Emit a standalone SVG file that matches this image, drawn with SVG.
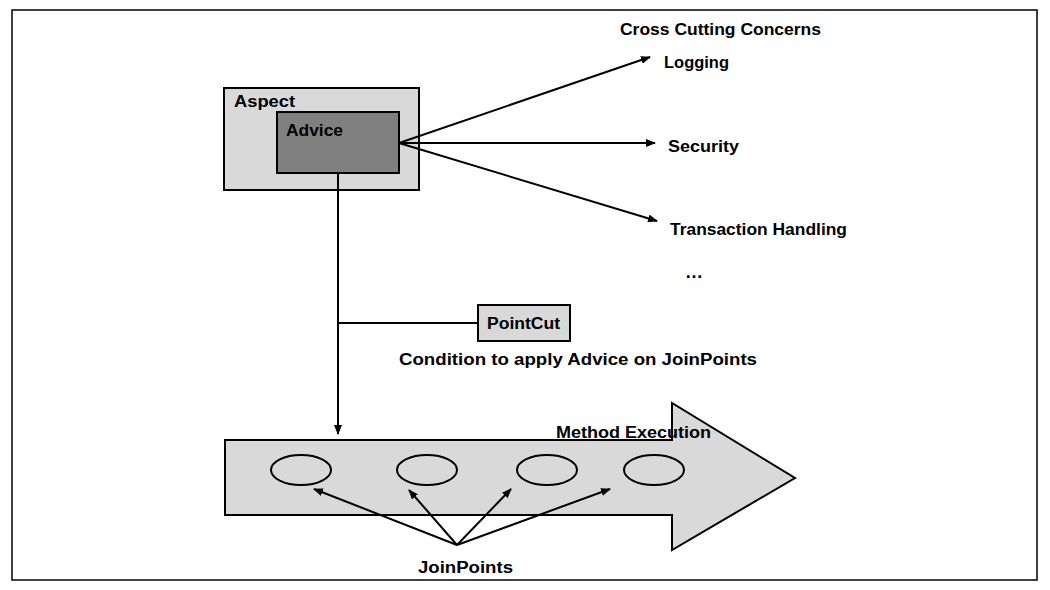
<svg xmlns="http://www.w3.org/2000/svg" width="1050" height="590" viewBox="0 0 1050 590">
<style>
text{font-family:"Liberation Sans",Arial,sans-serif;font-weight:bold;font-size:16px;fill:#000}
.c{stroke:#000;stroke-width:2;fill:none}
</style>
<defs><marker id="a" markerWidth="10" markerHeight="8" refX="9" refY="4" orient="auto" markerUnits="userSpaceOnUse"><path d="M0,0 L10,4 L0,8 z" fill="#000"/></marker></defs>
<rect x="0" y="0" width="1050" height="590" fill="#fff"/>
<rect x="12" y="10" width="1025" height="570" fill="none" stroke="#000" stroke-width="1.5"/>
<g id="aspect"><rect x="224" y="88" width="195" height="102" fill="#d9d9d9" stroke="#000" stroke-width="2"/><text x="234" y="107" textLength="61" lengthAdjust="spacingAndGlyphs">Aspect</text></g>
<g id="advice"><rect x="277" y="112" width="122" height="61" fill="#808080" stroke="#000" stroke-width="2"/><text x="286" y="136" textLength="57" lengthAdjust="spacingAndGlyphs">Advice</text></g>
<g id="pointcut"><rect x="478" y="305" width="92" height="36" fill="#d9d9d9" stroke="#000" stroke-width="2"/><text x="487" y="329" textLength="73" lengthAdjust="spacingAndGlyphs">PointCut</text></g>
<text x="399" y="365" textLength="358" lengthAdjust="spacingAndGlyphs">Condition to apply Advice on JoinPoints</text>
<text x="620" y="35" textLength="201" lengthAdjust="spacingAndGlyphs">Cross Cutting Concerns</text>
<g id="logging"><text x="664" y="68" textLength="65" lengthAdjust="spacingAndGlyphs">Logging</text></g>
<g id="security"><text x="668" y="152" textLength="71" lengthAdjust="spacingAndGlyphs">Security</text></g>
<g id="transaction"><text x="670" y="235" textLength="177" lengthAdjust="spacingAndGlyphs">Transaction Handling</text></g>
<text x="685" y="278" style="font-size:18px">…</text>
<g id="method"><path d="M225,440 H672 V403 L795,478 L672,550 V515 H225 Z" fill="#d9d9d9" stroke="#000" stroke-width="2"/><text x="556" y="438" textLength="155" lengthAdjust="spacingAndGlyphs">Method Execution</text></g>
<g id="jp1"><ellipse cx="301" cy="470" rx="30" ry="15" fill="none" stroke="#000" stroke-width="2"/></g>
<g id="jp2"><ellipse cx="427" cy="470" rx="30" ry="15" fill="none" stroke="#000" stroke-width="2"/></g>
<g id="jp3"><ellipse cx="547" cy="470" rx="30" ry="15" fill="none" stroke="#000" stroke-width="2"/></g>
<g id="jp4"><ellipse cx="654" cy="470" rx="30" ry="15" fill="none" stroke="#000" stroke-width="2"/></g>
<text x="418" y="573" textLength="95" lengthAdjust="spacingAndGlyphs">JoinPoints</text>
<g id="connectors" class="c">
<line x1="399" y1="143" x2="650" y2="57" marker-end="url(#a)"/>
<line x1="399" y1="143" x2="655" y2="143" marker-end="url(#a)"/>
<line x1="399" y1="143" x2="657" y2="221" marker-end="url(#a)"/>
<line x1="338" y1="173" x2="338" y2="434" marker-end="url(#a)"/>
<line x1="338" y1="323" x2="478" y2="323"/>
<line x1="457" y1="545" x2="314" y2="489" marker-end="url(#a)"/>
<line x1="457" y1="545" x2="409" y2="490" marker-end="url(#a)"/>
<line x1="457" y1="545" x2="511" y2="489" marker-end="url(#a)"/>
<line x1="457" y1="545" x2="610" y2="489" marker-end="url(#a)"/>
</g>
</svg>
